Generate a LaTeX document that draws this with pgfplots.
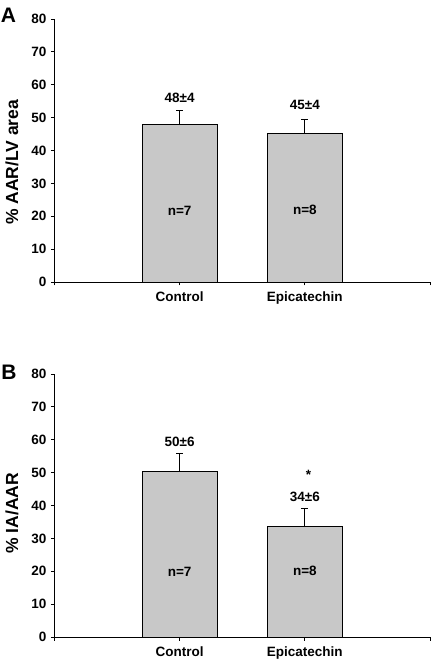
\documentclass[border=0pt]{standalone}
\usepackage{pgfplots}
\pgfplotsset{compat=1.18}
\usepackage{fontspec}
\setmainfont{Liberation Sans}
\definecolor{barfill}{RGB}{200,200,200}
\pgfplotsset{
  panel/.style={
    scale only axis,
    width=375.5pt, height=263pt,
    xmin=0, xmax=3, ymin=0, ymax=80,
    axis x line*=bottom, axis y line*=left,
    axis line style={black, line width=0.9pt},
    xtick={0,1,2,3}, xticklabels={,Control,Epicatechin,},
    ytick={0,10,...,80},
    tick style={black, line width=0.9pt},
    major tick length=3.5pt,
    tick align=outside,
    /pgf/number format/assume math mode=true,
    tick label style={font=\fontsize{13.5}{15}\selectfont\bfseries},
    xticklabel style={yshift=-3pt},
    yticklabel style={xshift=-1pt},
    ylabel style={font=\fontsize{17.5}{19}\selectfont\bfseries, anchor=center},
    ybar, bar width=0.6,
    clip=false,
  },
  barstyle/.style={fill=barfill, draw=black, line width=0.8pt,
    error bars/.cd, y dir=plus, y explicit,
    error bar style={black, line width=0.9pt},
    error mark options={black, line width=0.9pt, mark size=3.5pt, rotate=90}},
}
\newcommand{\lab}{\fontsize{13.5}{15}\selectfont\bfseries}
\begin{document}
\begin{tikzpicture}
\path[use as bounding box] (0,0) rectangle (432pt,660pt);
% Panel A
\begin{axis}[panel, at={(54.5pt,378pt)}, anchor=origin,
  ylabel={\% AAR/LV area},
  ylabel style={at={(axis description cs:-0.113,0.455)}}]
\addplot[barstyle] coordinates {(1,47.9) +- (0,4.2) (2,45.1) +- (0,4.3)};
\node[font=\lab] at (axis cs:1,56) {48±4};
\node[font=\lab] at (axis cs:2,53.8) {45±4};
\node[font=\lab] at (axis cs:1,21.7) {n=7};
\node[font=\lab] at (axis cs:2,22) {n=8};
\end{axis}
\node[font=\fontsize{21}{23}\selectfont\bfseries] at (8.5pt,645pt) {A};
% Panel B
\begin{axis}[panel, at={(54.5pt,23pt)}, anchor=origin,
  ylabel={\% IA/AAR},
  ylabel style={at={(axis description cs:-0.113,0.47)}}]
\addplot[barstyle] coordinates {(1,50.3) +- (0,5.6) (2,33.6) +- (0,5.6)};
\node[font=\lab] at (axis cs:1,59.5) {50±6};
\node[font=\lab] at (axis cs:2.03,49.2) {*};
\node[font=\lab] at (axis cs:2,42.7) {34±6};
\node[font=\lab] at (axis cs:1,19.7) {n=7};
\node[font=\lab] at (axis cs:2,20) {n=8};
\end{axis}
\node[font=\fontsize{21}{23}\selectfont\bfseries] at (9pt,288pt) {B};
\end{tikzpicture}
\end{document}
